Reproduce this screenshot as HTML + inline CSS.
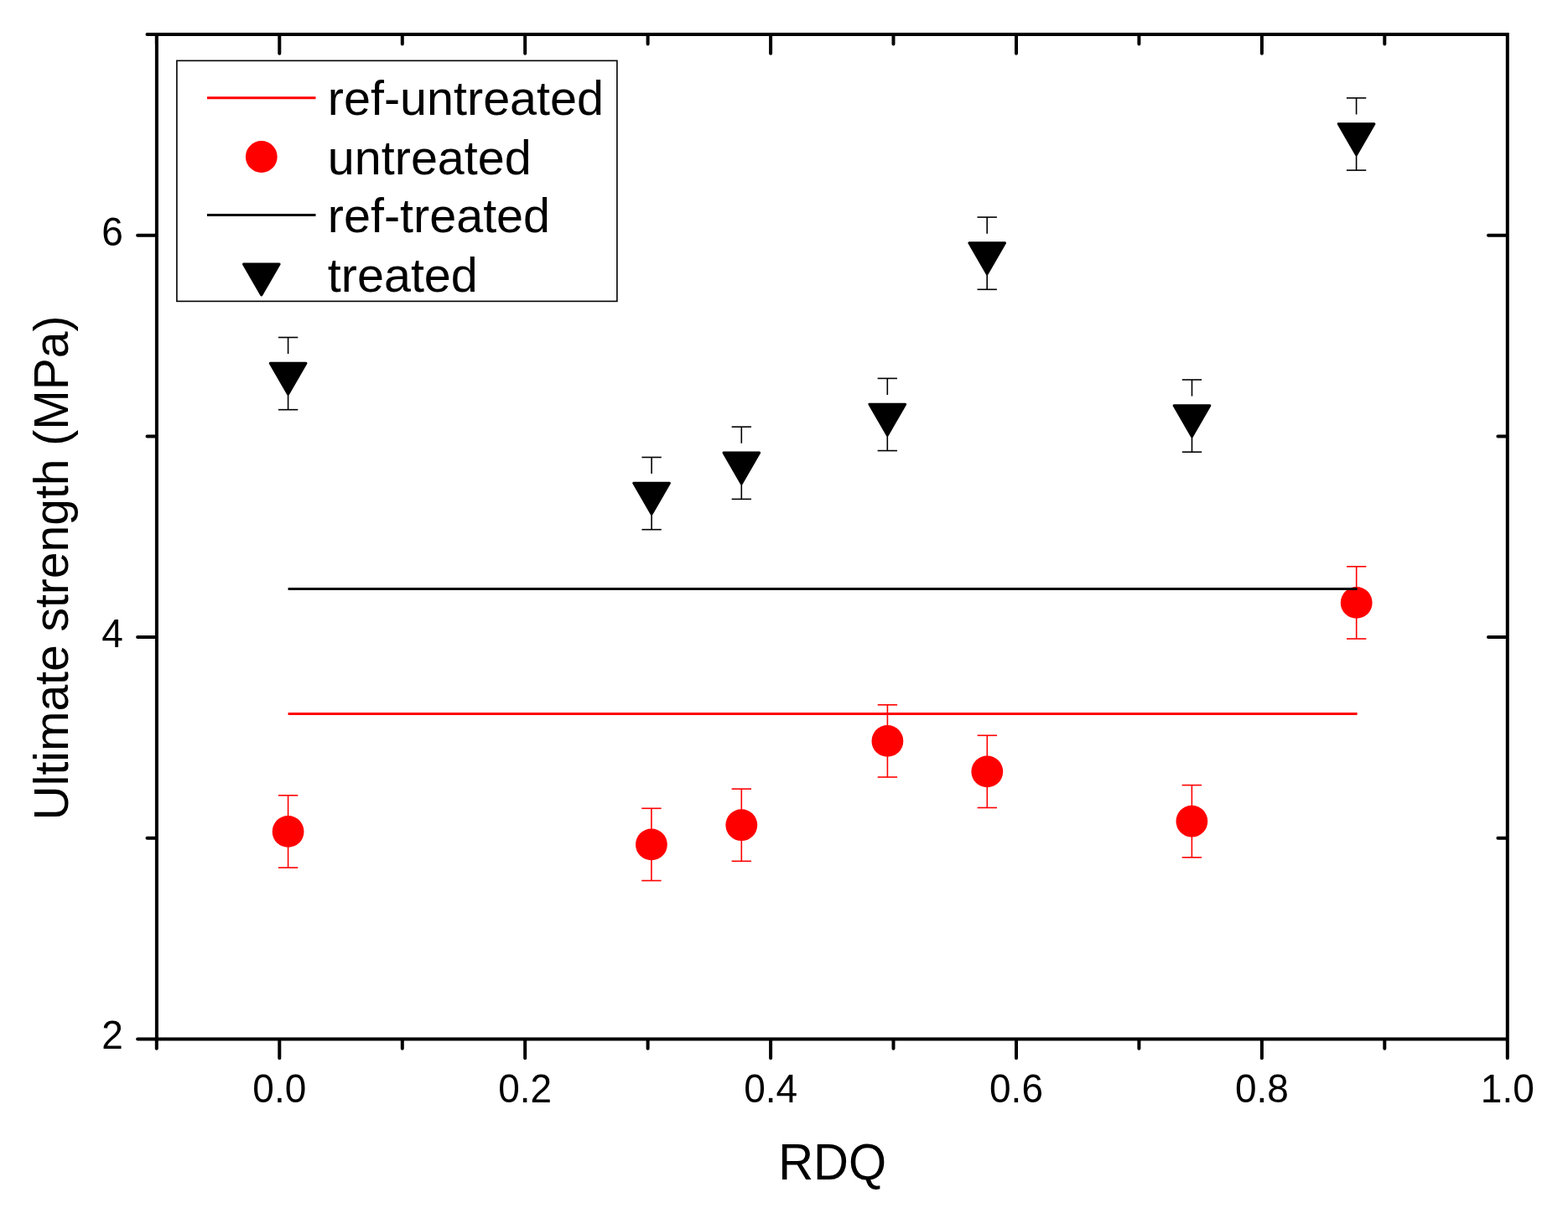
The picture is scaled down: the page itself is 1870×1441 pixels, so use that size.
<!DOCTYPE html>
<html><head><meta charset="utf-8"><title>Ultimate strength vs RDQ</title>
<style>html,body{margin:0;padding:0;background:#fff;} svg{display:block;}</style></head>
<body><svg width="1870" height="1441" viewBox="0 0 1870 1441" font-family="'Liberation Sans', Arial, sans-serif" fill="#000">
<rect width="1870" height="1441" fill="#fff"/>
<line x1="343.6" y1="851.5" x2="1618.6" y2="851.5" stroke="#ff0000" stroke-width="3"/>
<line x1="343.6" y1="948.8" x2="343.6" y2="991.9" stroke="#ff0000" stroke-width="1.6"/><line x1="343.6" y1="991.9" x2="343.6" y2="1035.0" stroke="#ff0000" stroke-width="1.6"/><line x1="331.9" y1="948.8" x2="355.3" y2="948.8" stroke="#ff0000" stroke-width="1.6"/><line x1="331.9" y1="1035.0" x2="355.3" y2="1035.0" stroke="#ff0000" stroke-width="1.6"/>
<circle cx="343.6" cy="991.9" r="18.9" fill="#ff0000"/>
<line x1="776.9" y1="964.3" x2="776.9" y2="1007.4" stroke="#ff0000" stroke-width="1.6"/><line x1="776.9" y1="1007.4" x2="776.9" y2="1050.5" stroke="#ff0000" stroke-width="1.6"/><line x1="765.2" y1="964.3" x2="788.6" y2="964.3" stroke="#ff0000" stroke-width="1.6"/><line x1="765.2" y1="1050.5" x2="788.6" y2="1050.5" stroke="#ff0000" stroke-width="1.6"/>
<circle cx="776.9" cy="1007.4" r="18.9" fill="#ff0000"/>
<line x1="884.3" y1="941.1" x2="884.3" y2="984.2" stroke="#ff0000" stroke-width="1.6"/><line x1="884.3" y1="984.2" x2="884.3" y2="1027.3" stroke="#ff0000" stroke-width="1.6"/><line x1="872.6" y1="941.1" x2="896.0" y2="941.1" stroke="#ff0000" stroke-width="1.6"/><line x1="872.6" y1="1027.3" x2="896.0" y2="1027.3" stroke="#ff0000" stroke-width="1.6"/>
<circle cx="884.3" cy="984.2" r="18.9" fill="#ff0000"/>
<line x1="1058.4" y1="840.8" x2="1058.4" y2="883.9" stroke="#ff0000" stroke-width="1.6"/><line x1="1058.4" y1="883.9" x2="1058.4" y2="927.0" stroke="#ff0000" stroke-width="1.6"/><line x1="1046.7" y1="840.8" x2="1070.1" y2="840.8" stroke="#ff0000" stroke-width="1.6"/><line x1="1046.7" y1="927.0" x2="1070.1" y2="927.0" stroke="#ff0000" stroke-width="1.6"/>
<circle cx="1058.4" cy="883.9" r="18.9" fill="#ff0000"/>
<line x1="1177.3" y1="877.3" x2="1177.3" y2="920.4" stroke="#ff0000" stroke-width="1.6"/><line x1="1177.3" y1="920.4" x2="1177.3" y2="963.5" stroke="#ff0000" stroke-width="1.6"/><line x1="1165.6" y1="877.3" x2="1189.0" y2="877.3" stroke="#ff0000" stroke-width="1.6"/><line x1="1165.6" y1="963.5" x2="1189.0" y2="963.5" stroke="#ff0000" stroke-width="1.6"/>
<circle cx="1177.3" cy="920.4" r="18.9" fill="#ff0000"/>
<line x1="1421.4" y1="936.6" x2="1421.4" y2="979.7" stroke="#ff0000" stroke-width="1.6"/><line x1="1421.4" y1="979.7" x2="1421.4" y2="1022.8" stroke="#ff0000" stroke-width="1.6"/><line x1="1409.7" y1="936.6" x2="1433.1" y2="936.6" stroke="#ff0000" stroke-width="1.6"/><line x1="1409.7" y1="1022.8" x2="1433.1" y2="1022.8" stroke="#ff0000" stroke-width="1.6"/>
<circle cx="1421.4" cy="979.7" r="18.9" fill="#ff0000"/>
<line x1="1617.7" y1="675.8" x2="1617.7" y2="718.9" stroke="#ff0000" stroke-width="1.6"/><line x1="1617.7" y1="718.9" x2="1617.7" y2="762.0" stroke="#ff0000" stroke-width="1.6"/><line x1="1606.0" y1="675.8" x2="1629.4" y2="675.8" stroke="#ff0000" stroke-width="1.6"/><line x1="1606.0" y1="762.0" x2="1629.4" y2="762.0" stroke="#ff0000" stroke-width="1.6"/>
<circle cx="1617.7" cy="718.9" r="18.9" fill="#ff0000"/>
<line x1="343.6" y1="702.5" x2="1618.6" y2="702.5" stroke="#000" stroke-width="3"/>
<line x1="343.6" y1="402.5" x2="343.6" y2="422.1" stroke="#000" stroke-width="1.6"/><line x1="343.6" y1="469.1" x2="343.6" y2="488.7" stroke="#000" stroke-width="1.6"/><line x1="331.9" y1="402.5" x2="355.3" y2="402.5" stroke="#000" stroke-width="1.6"/><line x1="331.9" y1="488.7" x2="355.3" y2="488.7" stroke="#000" stroke-width="1.6"/>
<path d="M322.25,433.27 L364.95,433.27 L343.60,470.25 Z" fill="#000" stroke="#000" stroke-width="3" stroke-linejoin="round"/>
<line x1="777.1" y1="545.5" x2="777.1" y2="565.1" stroke="#000" stroke-width="1.6"/><line x1="777.1" y1="612.1" x2="777.1" y2="631.7" stroke="#000" stroke-width="1.6"/><line x1="765.4" y1="545.5" x2="788.8" y2="545.5" stroke="#000" stroke-width="1.6"/><line x1="765.4" y1="631.7" x2="788.8" y2="631.7" stroke="#000" stroke-width="1.6"/>
<path d="M755.75,576.27 L798.45,576.27 L777.10,613.25 Z" fill="#000" stroke="#000" stroke-width="3" stroke-linejoin="round"/>
<line x1="884.3" y1="509.2" x2="884.3" y2="528.8" stroke="#000" stroke-width="1.6"/><line x1="884.3" y1="575.8" x2="884.3" y2="595.4" stroke="#000" stroke-width="1.6"/><line x1="872.6" y1="509.2" x2="896.0" y2="509.2" stroke="#000" stroke-width="1.6"/><line x1="872.6" y1="595.4" x2="896.0" y2="595.4" stroke="#000" stroke-width="1.6"/>
<path d="M862.95,539.97 L905.65,539.97 L884.30,576.95 Z" fill="#000" stroke="#000" stroke-width="3" stroke-linejoin="round"/>
<line x1="1058.3" y1="451.4" x2="1058.3" y2="471.0" stroke="#000" stroke-width="1.6"/><line x1="1058.3" y1="518.0" x2="1058.3" y2="537.6" stroke="#000" stroke-width="1.6"/><line x1="1046.6" y1="451.4" x2="1070.0" y2="451.4" stroke="#000" stroke-width="1.6"/><line x1="1046.6" y1="537.6" x2="1070.0" y2="537.6" stroke="#000" stroke-width="1.6"/>
<path d="M1036.95,482.17 L1079.65,482.17 L1058.30,519.15 Z" fill="#000" stroke="#000" stroke-width="3" stroke-linejoin="round"/>
<line x1="1177.2" y1="259.1" x2="1177.2" y2="278.7" stroke="#000" stroke-width="1.6"/><line x1="1177.2" y1="325.7" x2="1177.2" y2="345.3" stroke="#000" stroke-width="1.6"/><line x1="1165.5" y1="259.1" x2="1188.9" y2="259.1" stroke="#000" stroke-width="1.6"/><line x1="1165.5" y1="345.3" x2="1188.9" y2="345.3" stroke="#000" stroke-width="1.6"/>
<path d="M1155.85,289.87 L1198.55,289.87 L1177.20,326.85 Z" fill="#000" stroke="#000" stroke-width="3" stroke-linejoin="round"/>
<line x1="1421.5" y1="453.0" x2="1421.5" y2="472.6" stroke="#000" stroke-width="1.6"/><line x1="1421.5" y1="519.6" x2="1421.5" y2="539.2" stroke="#000" stroke-width="1.6"/><line x1="1409.8" y1="453.0" x2="1433.2" y2="453.0" stroke="#000" stroke-width="1.6"/><line x1="1409.8" y1="539.2" x2="1433.2" y2="539.2" stroke="#000" stroke-width="1.6"/>
<path d="M1400.15,483.77 L1442.85,483.77 L1421.50,520.75 Z" fill="#000" stroke="#000" stroke-width="3" stroke-linejoin="round"/>
<line x1="1617.6" y1="116.9" x2="1617.6" y2="136.5" stroke="#000" stroke-width="1.6"/><line x1="1617.6" y1="183.5" x2="1617.6" y2="203.1" stroke="#000" stroke-width="1.6"/><line x1="1605.9" y1="116.9" x2="1629.3" y2="116.9" stroke="#000" stroke-width="1.6"/><line x1="1605.9" y1="203.1" x2="1629.3" y2="203.1" stroke="#000" stroke-width="1.6"/>
<path d="M1596.25,147.67 L1638.95,147.67 L1617.60,184.65 Z" fill="#000" stroke="#000" stroke-width="3" stroke-linejoin="round"/>
<path d="M186.9,41.0 L1797.8,41.0 L1797.8,1239.4 L186.9,1239.4 Z M186.8,1239.4 L186.8,1250.8000000000002 M186.8,41.0 L186.8,52.4 M333.3,1239.4 L333.3,1262.2 M333.3,41.0 L333.3,63.8 M479.8,1239.4 L479.8,1250.8000000000002 M479.8,41.0 L479.8,52.4 M626.2,1239.4 L626.2,1262.2 M626.2,41.0 L626.2,63.8 M772.6,1239.4 L772.6,1250.8000000000002 M772.6,41.0 L772.6,52.4 M919.1,1239.4 L919.1,1262.2 M919.1,41.0 L919.1,63.8 M1065.5,1239.4 L1065.5,1250.8000000000002 M1065.5,41.0 L1065.5,52.4 M1212.0,1239.4 L1212.0,1262.2 M1212.0,41.0 L1212.0,63.8 M1358.4,1239.4 L1358.4,1250.8000000000002 M1358.4,41.0 L1358.4,52.4 M1504.9,1239.4 L1504.9,1262.2 M1504.9,41.0 L1504.9,63.8 M1651.3,1239.4 L1651.3,1250.8000000000002 M1651.3,41.0 L1651.3,52.4 M1797.8,1239.4 L1797.8,1262.2 M1797.8,41.0 L1797.8,63.8 M186.9,1239.4 L164.1,1239.4 M1797.8,1239.4 L1775.0,1239.4 M186.9,999.7 L175.5,999.7 M1797.8,999.7 L1786.3999999999999,999.7 M186.9,760.0 L164.1,760.0 M1797.8,760.0 L1775.0,760.0 M186.9,520.4 L175.5,520.4 M1797.8,520.4 L1786.3999999999999,520.4 M186.9,280.7 L164.1,280.7 M1797.8,280.7 L1775.0,280.7 M186.9,41.0 L175.5,41.0 M1797.8,41.0 L1786.3999999999999,41.0" fill="none" stroke="#000" stroke-width="4.0" stroke-linecap="round" stroke-linejoin="miter"/>
<text transform="translate(333.3,1314.6) scale(1,1.04)" font-size="46" text-anchor="middle">0.0</text>
<text transform="translate(626.2,1314.6) scale(1,1.04)" font-size="46" text-anchor="middle">0.2</text>
<text transform="translate(919.1,1314.6) scale(1,1.04)" font-size="46" text-anchor="middle">0.4</text>
<text transform="translate(1212.0,1314.6) scale(1,1.04)" font-size="46" text-anchor="middle">0.6</text>
<text transform="translate(1504.9,1314.6) scale(1,1.04)" font-size="46" text-anchor="middle">0.8</text>
<text transform="translate(1797.8,1314.6) scale(1,1.04)" font-size="46" text-anchor="middle">1.0</text>
<text transform="translate(146.9,1251.4) scale(1,1.04)" font-size="46" text-anchor="end">2</text>
<text transform="translate(146.9,772.0) scale(1,1.04)" font-size="46" text-anchor="end">4</text>
<text transform="translate(146.9,292.7) scale(1,1.04)" font-size="46" text-anchor="end">6</text>
<text transform="translate(928.2,1406.8) scale(1,1.04)" font-size="58">RDQ</text>
<text transform="translate(81.2,978.4) rotate(-90)" font-size="57">Ultimate strength (MPa)</text>
<rect x="210.9" y="72.4" width="525" height="287" fill="#fff" stroke="#000" stroke-width="1.6"/>
<line x1="247" y1="116.8" x2="376.5" y2="116.8" stroke="#ff0000" stroke-width="3"/>
<circle cx="311.8" cy="187" r="18.9" fill="#ff0000"/>
<line x1="247" y1="256.4" x2="376.5" y2="256.4" stroke="#000" stroke-width="3"/>
<path d="M290.45,315.00 L333.15,315.00 L311.80,351.98 Z" fill="#000" stroke="#000" stroke-width="3" stroke-linejoin="round"/>
<text x="390.8" y="137.3" font-size="57.5">ref-untreated</text>
<text x="390.8" y="207.5" font-size="57.5">untreated</text>
<text x="390.8" y="276.9" font-size="57.5">ref-treated</text>
<text x="390.8" y="347.8" font-size="57.5">treated</text>
</svg></body></html>
